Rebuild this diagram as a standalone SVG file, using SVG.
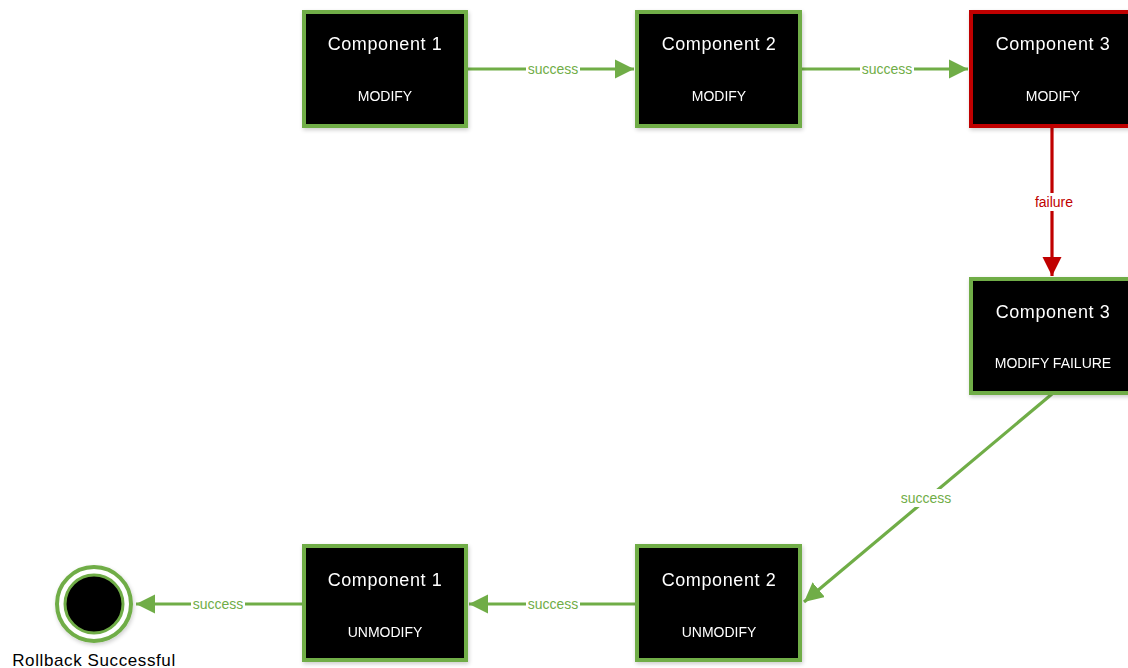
<svg xmlns="http://www.w3.org/2000/svg" width="1128" height="668" viewBox="0 0 1128 668">
<style>
.box{fill:#000;stroke:#70AD47;stroke-width:4}
.red{stroke:#C00000}
.t{font-family:"Liberation Sans",Arial,sans-serif;fill:#fff;text-anchor:middle}
.title{font-size:18px;letter-spacing:0.6px}
.sub{font-size:14px}
.c{fill:none;stroke:#70AD47;stroke-width:3.2}
.cr{stroke:#C00000}
.lbl{font-family:"Liberation Sans",Arial,sans-serif;font-size:14px;fill:#70AD47;text-anchor:middle}
.lr{fill:#C00000}
</style>
<defs>
<marker id="ag" markerWidth="6" markerHeight="6" refX="6" refY="3" orient="auto" markerUnits="strokeWidth"><path d="M0,0 L6,3 L0,6 Z" fill="#70AD47"/></marker>
<marker id="ar" markerWidth="6" markerHeight="6" refX="6" refY="3" orient="auto" markerUnits="strokeWidth"><path d="M0,0 L6,3 L0,6 Z" fill="#C00000"/></marker>
<filter id="sh" x="-10%" y="-10%" width="130%" height="130%"><feGaussianBlur in="SourceAlpha" stdDeviation="2"/><feOffset dx="1" dy="2"/><feComponentTransfer><feFuncA type="linear" slope="0.2"/></feComponentTransfer><feMerge><feMergeNode/><feMergeNode in="SourceGraphic"/></feMerge></filter>
</defs>
<rect width="1128" height="668" fill="#fff"/>
<g id="connectors">
<line class="c" x1="467" y1="69" x2="634" y2="69" marker-end="url(#ag)"/>
<rect x="526" y="60" width="54" height="18" fill="#fff"/>
<text class="lbl" x="553" y="74">success</text>
<line class="c" x1="801" y1="69" x2="968" y2="69" marker-end="url(#ag)"/>
<rect x="860" y="60" width="54" height="18" fill="#fff"/>
<text class="lbl" x="887" y="74">success</text>
<line class="c cr" x1="1052" y1="127" x2="1052" y2="276" marker-end="url(#ar)"/>
<rect x="1028" y="193" width="48" height="18" fill="#fff"/>
<text class="lbl lr" x="1054" y="207">failure</text>
<line class="c" x1="1052" y1="394" x2="804" y2="602" marker-end="url(#ag)"/>
<rect x="898" y="489" width="56" height="18" fill="#fff"/>
<text class="lbl" x="926" y="503">success</text>
<line class="c" x1="636" y1="604" x2="469" y2="604" marker-end="url(#ag)"/>
<rect x="526" y="595" width="54" height="18" fill="#fff"/>
<text class="lbl" x="553" y="609">success</text>
<line class="c" x1="303" y1="604" x2="136" y2="604" marker-end="url(#ag)"/>
<rect x="191" y="595" width="54" height="18" fill="#fff"/>
<text class="lbl" x="218" y="609">success</text>
</g>
<g id="n1" filter="url(#sh)">
<rect class="box" x="304" y="12" width="162" height="114"/>
<text class="t title" x="385" y="50">Component 1</text>
<text class="t sub" x="385" y="101">MODIFY</text>
</g>
<g id="n2" filter="url(#sh)">
<rect class="box" x="637" y="12" width="163" height="114"/>
<text class="t title" x="719" y="50">Component 2</text>
<text class="t sub" x="719" y="101">MODIFY</text>
</g>
<g id="n3" filter="url(#sh)">
<rect class="box red" x="971" y="12" width="163" height="114"/>
<text class="t title" x="1053" y="50">Component 3</text>
<text class="t sub" x="1053" y="101">MODIFY</text>
</g>
<g id="n4" filter="url(#sh)">
<rect class="box" x="971" y="279" width="163" height="114"/>
<text class="t title" x="1053" y="318">Component 3</text>
<text class="t sub" x="1053" y="368">MODIFY FAILURE</text>
</g>
<g id="n5" filter="url(#sh)">
<rect class="box" x="637" y="546" width="163" height="114"/>
<text class="t title" x="719" y="586">Component 2</text>
<text class="t sub" x="719" y="637">UNMODIFY</text>
</g>
<g id="n6" filter="url(#sh)">
<rect class="box" x="304" y="546" width="162" height="114"/>
<text class="t title" x="385" y="586">Component 1</text>
<text class="t sub" x="385" y="637">UNMODIFY</text>
</g>
<g id="end">
<circle cx="94" cy="604" r="37" fill="#fff" stroke="#70AD47" stroke-width="4" filter="url(#sh)"/>
<circle cx="94" cy="604" r="29" fill="#000" stroke="#70AD47" stroke-width="3"/>
<text x="94" y="666" font-family="'Liberation Sans',Arial,sans-serif" font-size="17" letter-spacing="0.6" fill="#000" text-anchor="middle">Rollback Successful</text>
</g>
</svg>
